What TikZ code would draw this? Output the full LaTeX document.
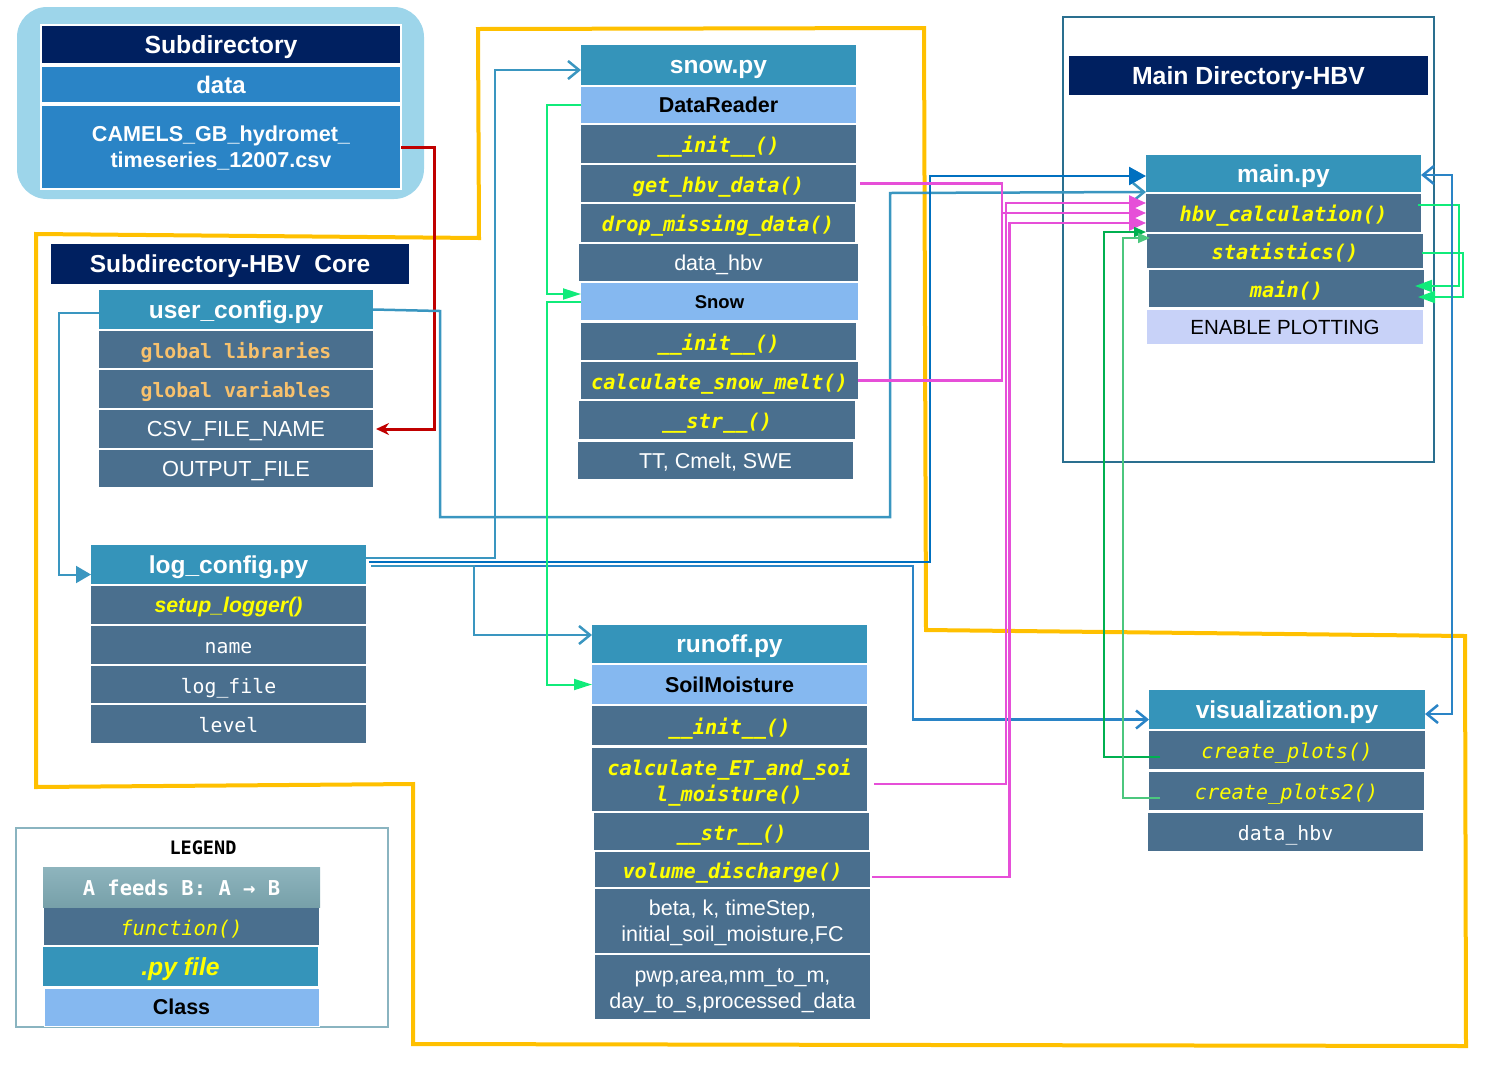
\documentclass[tikz,border=0pt]{standalone}
\usepackage{fontspec}
\setmainfont{Liberation Sans}
\setmonofont{DejaVu Sans Mono}
\usetikzlibrary{arrows.meta,calc}
\definecolor{navy}{HTML}{002060}
\definecolor{datablue}{HTML}{2A84C6}
\definecolor{bglight}{HTML}{9DD5EA}
\definecolor{pyteal}{HTML}{3594BA}
\definecolor{slate}{HTML}{4A6F8E}
\definecolor{classblue}{HTML}{85B8F0}
\definecolor{lavender}{HTML}{C8D2F8}
\definecolor{yelo}{HTML}{FFFF00}
\definecolor{orangec}{HTML}{F8C16C}
\definecolor{goldc}{HTML}{FFC000}
\definecolor{redc}{HTML}{C00000}
\definecolor{tealc}{HTML}{3A96C0}
\definecolor{blueA}{HTML}{0070C0}
\definecolor{blueB}{HTML}{2A84C6}
\definecolor{brgreen}{HTML}{10EB7A}
\definecolor{dkgreen}{HTML}{00B050}
\definecolor{ltgreen}{HTML}{4CC77E}
\definecolor{magc}{HTML}{E64FD8}
\definecolor{rectc}{HTML}{2A6F8F}
\definecolor{legrect}{HTML}{8AB4C0}
\definecolor{legtop}{HTML}{8EB4BD}
\definecolor{legbot}{HTML}{77A0A9}
\newcommand\fs[2]{\fontsize{#1}{#2}\selectfont}
\newcommand\twolines[3]{\raisebox{#1}[\height][\depth]{\begin{tabular}{@{}c@{}}#2\\#3\end{tabular}}}
\tikzset{
  cell/.style={anchor=north west, inner sep=0pt, outer sep=0pt, align=center, text=white},
  one/.style={text height=#1, text depth=0pt},
  wh/.style 2 args={minimum width=#1pt, minimum height=#2pt},
  navycell/.style={cell, one=17.8pt, fill=navy, font=\bfseries\fs{24.8}{28}},
  pytitle/.style={cell, one=17.6pt, fill=pyteal, font=\bfseries\fs{24.5}{28}},
  fnb/.style={cell, one=17.4pt, fill=slate, text=yelo, font=\ttfamily\bfseries\itshape\fs{20.3}{26}},
  fnr/.style={cell, one=17.4pt, fill=slate, text=yelo, font=\ttfamily\itshape\fs{20.3}{26}},
  attr/.style={cell, one=15.5pt, fill=slate, font=\fs{21.5}{26}},
  multi/.style={cell, fill=slate, font=\fs{21.5}{26}},
  monoattr/.style={cell, one=17pt, fill=slate, font=\ttfamily\fs{19.8}{24}},
  glob/.style={cell, one=17pt, fill=slate, text=orangec, font=\ttfamily\bfseries\fs{19.8}{24}},
  clsname/.style={cell, one=15.5pt, fill=classblue, text=black, font=\bfseries\fs{21.5}{26}},
  conn/.style={line width=2.5pt},
  barb/.style={-{Straight Barb[length=11pt,width=18pt]}},
}
\begin{document}
\begin{tikzpicture}[x=1pt,y=-1pt,line join=miter]
\useasboundingbox (0,0) rectangle (1489,1080);

% yellow outline
\draw[goldc, line width=4pt] (36,787) -- (36,234) -- (479,238) -- (478,29) -- (924,28) -- (926,630) -- (1465,636) -- (1466,1046) -- (413,1044) -- (413,784) -- cycle;

% backgrounds / frames
\fill[bglight, rounded corners=30pt] (17,7) rectangle (424,199);
\draw[rectc, line width=2pt] (1063,17) rectangle (1434,462);
\draw[legrect, line width=1.5pt] (16,828) rectangle (388,1027);

% top-left data group
\node[navycell, wh={360}{39}, draw=white, line width=1.5pt] (subdir) at (41,25) {Subdirectory};
\node[cell, one=17.3pt, fill=datablue, wh={360}{37}, draw=white, line width=1.5pt, font=\bfseries\fs{24}{28}] (data) at (41,66) {data};
\node[cell, fill=datablue, wh={360}{84}, draw=white, line width=1.5pt, font=\bfseries\fs{21.6}{26}] (camels) at (41,105) {\twolines{-2pt}{CAMELS\_GB\_hydromet\_}{timeseries\_12007.csv}};

% HBV core
\node[navycell, wh={358}{40}, font=\bfseries\fs{24.5}{28}] (core) at (51,244) {Subdirectory-HBV\ \ Core};
\node[pytitle, wh={274}{39}] (uc) at (99,290) {user\_config.py};
\node[glob, wh={274}{37}] (glib) at (99,331) {global libraries};
\node[glob, wh={274}{38}] (gvar) at (99,370) {global variables};
\node[attr, wh={274}{38}, font=\fs{21.8}{26}] (csv) at (99,410) {CSV\_FILE\_NAME};
\node[attr, wh={274}{37}, font=\fs{21.8}{26}] (outf) at (99,450) {OUTPUT\_FILE};

\node[pytitle, wh={275}{39}] (lc) at (91,545) {log\_config.py};
\node[cell, one=15.4pt, fill=slate, text=yelo, wh={275}{38}, font=\bfseries\itshape\fs{21.3}{26}] (setup) at (91,586) {setup\_logger()};
\node[monoattr, wh={275}{38}] (lname) at (91,626) {name};
\node[monoattr, wh={275}{37}] (lfile) at (91,666) {log\_file};
\node[monoattr, wh={275}{38}] (llevel) at (91,705) {level};

% snow.py
\node[pytitle, wh={275}{40}] (snowpy) at (581,45) {snow.py};
\node[clsname, wh={275}{36}] (dr) at (581,87) {DataReader};
\node[fnb, wh={275}{38}] (init1) at (581,125) {\_\_init\_\_()};
\node[fnb, wh={275}{37}] (gethbv) at (581,165) {get\_hbv\_data()};
\node[fnb, wh={274}{38}] (dropm) at (581,204) {drop\_missing\_data()};
\node[attr, wh={279}{37}] (dhbv1) at (579,244) {data\_hbv};
\node[clsname, one=13.3pt, wh={277}{37}, font=\bfseries\fs{18.5}{22}] (snowc) at (581,283) {Snow};
\node[fnb, wh={275}{37}] (init2) at (581,323) {\_\_init\_\_()};
\node[fnb, wh={277}{37}] (calcsnow) at (581,362) {calculate\_snow\_melt()};
\node[fnb, wh={276}{38}] (str1) at (579,401) {\_\_str\_\_()};
\node[attr, wh={275}{37}] (ttc) at (578,442) {TT, Cmelt, SWE};

% main directory
\node[navycell, wh={359}{39}] (maindir) at (1069,56) {Main Directory-HBV};
\node[pytitle, wh={275}{37}] (mainpy) at (1146,155) {main.py};
\node[fnb, wh={275}{38}] (hbv) at (1146,194) {hbv\_calculation()};
\node[fnb, wh={276}{34}] (stats) at (1147,234) {statistics()};
\node[fnb, wh={275}{37}] (mainfn) at (1149,270) {main()};
\node[cell, one=14.8pt, fill=lavender, text=black, wh={276}{34}, font=\fs{20.5}{24}] (enable) at (1147,310) {ENABLE PLOTTING};

% runoff.py
\node[pytitle, wh={275}{38}] (runoff) at (592,625) {runoff.py};
\node[clsname, wh={275}{39}] (soil) at (592,665) {SoilMoisture};
\node[fnb, wh={275}{39}] (init3) at (592,706) {\_\_init\_\_()};
\node[cell, fill=slate, text=yelo, font=\ttfamily\bfseries\itshape\fs{20.3}{26}, wh={275}{63}] (calcET) at (592,748) {\twolines{-4pt}{calculate\_ET\_and\_soi}{l\_moisture()}};
\node[fnb, wh={275}{37}] (str2) at (594,813) {\_\_str\_\_()};
\node[fnb, wh={275}{35}] (vol) at (595,852) {volume\_discharge()};
\node[multi, wh={275}{64}] (beta) at (595,889) {\twolines{-2pt}{beta, k, timeStep,}{initial\_soil\_moisture,FC}};
\node[multi, wh={275}{64}] (pwp) at (595,955) {\twolines{-3pt}{pwp,area,mm\_to\_m,}{day\_to\_s,processed\_data}};

% visualization.py
\node[pytitle, wh={276}{39}] (vis) at (1149,690) {visualization.py};
\node[fnr, wh={276}{38}] (cp1) at (1149,731) {create\_plots()};
\node[fnr, wh={275}{38}] (cp2) at (1149,772) {create\_plots2()};
\node[monoattr, wh={275}{38}] (dhbv2) at (1148,813) {data\_hbv};

% legend
\node[font=\ttfamily\bfseries\fs{18.5}{22}, text=black, inner sep=0pt] (legtitle) at (203,848) {LEGEND};
\node[cell, one=17.4pt, top color=legtop, bottom color=legbot, wh={277}{40}, font=\ttfamily\bfseries\fs{20.5}{24}] (feeds) at (43,867) {A feeds B: A → B};
\node[fnr, wh={275}{37}] (legfn) at (44,908) {function()};
\node[cell, one=17.8pt, fill=pyteal, text=yelo, wh={275}{39}, font=\bfseries\itshape\fs{24.7}{28}] (legpy) at (43,947) {.py file};
\node[clsname, wh={275}{38}, draw=white, line width=1pt] (legcls) at (44,988) {Class};

% ---- connectors ----
% red: csv file feeds CSV_FILE_NAME
\draw[redc, line width=3pt, -{Stealth[length=13pt,width=12pt]}, shorten >=3pt] (camels.east) -- (434,147) -- (434,429) -- (csv.east);

% user_config -> log_config
\draw[tealc, line width=2pt, -{Triangle[length=15pt,width=17pt]}] ($(uc.west)+(0,3.5)$) -- (59,313) -- (59,574.5) -- ($(lc.west)+(0,10)$);

% user_config -> main.py / hbv
\draw[tealc, conn, barb] (uc.east) -- (440,311) -- (440,517) -- (890,517) -- (890,193) -- (mainpy.south west);

% log_config -> snow.py
\draw[tealc, conn, barb] ($(lc.east)+(0,-6.5)$) -- (495,558) -- (495,70) -- ($(snowpy.west)+(0,5)$);
% log_config -> main.py
\draw[blueA, conn, -{Triangle[length=17pt,width=18pt]}] ($(lc.east)+(3,-2.5)$) -- (930,562) -- (930,176) -- ($(mainpy.west)+(0,2.5)$);
% log_config -> visualization.py
\draw[blueB, conn, barb] ($(lc.east)+(5,1.5)$) -- (913,566) -- (913,719.5) -- ($(vis.west)+(0,10)$);
% log_config -> runoff.py
\draw[tealc, conn, barb] ($(lc.east)+(5,1.5)$) -- (474,566) -- (474,635) -- ($(runoff.west)+(0,-9)$);

% DataReader -> Snow -> SoilMoisture
\draw[brgreen, line width=2pt, -{Triangle[length=18pt,width=11pt]}] (dr.west) -- (547,105) -- (547,294) -- ($(snowc.west)+(0,-7.5)$);
\draw[brgreen, line width=2pt, -{Triangle[length=18pt,width=11pt]}] ($(snowc.west)+(0,0.5)$) -- (547,302) -- (547,684.5) -- (soil.west);

% magenta feeds into hbv_calculation
\draw[magc, conn] ($(gethbv.east)+(4,0)$) -- (1002,183.5) -- (1002,380.5) -- (calcsnow.east);
\draw[magc, conn, -{Triangle[length=17pt,width=15pt]}] (1002,213) -- (hbv.west);
\draw[magc, conn, -{Triangle[length=17pt,width=15pt]}] ($(calcET.east)+(7,4.5)$) -- (1006,784) -- (1006,203) -- ($(hbv.west)+(0,-10)$);
\draw[magc, conn, -{Triangle[length=17pt,width=15pt]}] ($(vol.east)+(2,7.5)$) -- (1009.5,877) -- (1009.5,223) -- ($(hbv.west)+(0,10)$);

% create_plots -> hbv / statistics
\draw[dkgreen, line width=1.5pt, -{Triangle[length=12pt,width=10pt]}] ($(cp1.west)+(11,7)$) -- (1104,757) -- (1104,232) -- (hbv.south west);
\draw[ltgreen, line width=1.5pt, -{Triangle[length=12pt,width=10pt]}] ($(cp2.west)+(11,7)$) -- (1123,798) -- (1123,238) -- ($(stats.north west)+(3,4)$);

% hbv_calculation / statistics -> main()
\draw[brgreen, line width=2pt, -{Triangle[length=17pt,width=12pt]}] ($(hbv.east)+(-3,-8)$) -- (1459,205) -- (1459,286) -- ($(mainfn.east)+(-9,-2.5)$);
\draw[brgreen, line width=2pt, -{Triangle[length=17pt,width=12pt]}] ($(stats.east)+(-1,2)$) -- (1463,253) -- (1463,297) -- ($(mainfn.east)+(-6,8.5)$);

% main.py <-> visualization.py
\draw[blueB, conn, {Straight Barb[length=11pt,width=18pt]}-{Straight Barb[length=11pt,width=18pt]}] ($(mainpy.east)+(0,1.5)$) -- (1452,175) -- (1452,714) -- ($(vis.east)+(0,4.5)$);
\end{tikzpicture}
\end{document}
